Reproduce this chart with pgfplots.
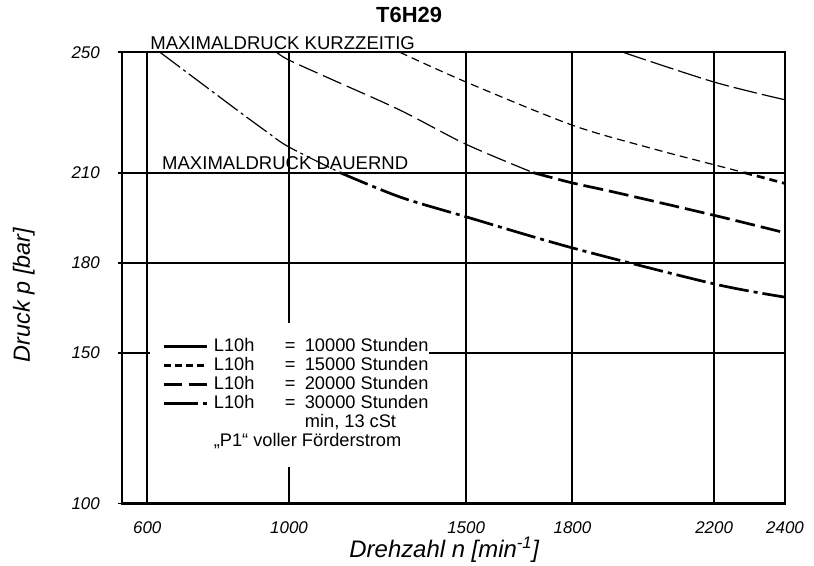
\documentclass[border=0pt]{standalone}
\usepackage{fontspec}
\setmainfont{Liberation Sans}
\usepackage{pgfplots}
\pgfplotsset{compat=1.18}
\begin{document}
\begin{tikzpicture}
\path[use as bounding box] (-122bp,-62.5bp) rectangle (692bp,503.5bp);
\begin{axis}[
  at={(0,0)}, anchor=south west,
  width=663bp, height=451.2bp, scale only axis,
  xmin=528.6, xmax=2400, ymin=100, ymax=250,
  clip=false,
  axis line style={line width=2.4bp},
  xtick={600,1000,1500,1800,2200,2400},
  xticklabels={600,1000,1500,1800,2200,2400},
  ytick={100,150,180,210,250},
  yticklabels={100,150,180,210,250},
  /pgf/number format/assume math mode=true,
  xmajorgrids, ymajorgrids,
  major grid style={line width=1.9bp, black},
  xtick style={draw=none},
  ytick style={line width=1.9bp, black},
  ytick pos=left,
  tick align=outside, major tick length=4bp,
  ticklabel style={font=\fontsize{17}{17}\selectfont\itshape, inner sep=0pt},
  xticklabel style={anchor=north, yshift=-14bp},
  yticklabel style={anchor=east, xshift=-18bp},
  title={T6H29},
  title style={at={(0.433,1)}, anchor=base, yshift=24bp, inner sep=0pt, font=\bfseries\fontsize{22}{22}\selectfont},
  xlabel={Drehzahl n [min\textsuperscript{-1}]},
  xlabel style={at={(axis description cs:0.486,0)}, anchor=base, yshift=-53.5bp, inner sep=0pt, font=\itshape\fontsize{24}{24}\selectfont},
  ylabel={Druck p [bar]},
  ylabel style={at={(axis description cs:-0.148,0.462)}, anchor=center, rotate=0, inner sep=0pt, font=\itshape\fontsize{23.5}{23.5}\selectfont},
  legend image code/.code={\draw[#1] (0bp,5bp) -- (43bp,5bp);},
  legend cell align=left,
  legend style={at={(0.0422,0.400)}, anchor=north west, draw=none, fill=white,
    inner xsep=12bp, inner ysep=15bp, column sep=6bp, row sep=0bp,
    font=\fontsize{18.3}{19}\selectfont,
    nodes={inner sep=0pt, anchor=base west, text height=13bp, text depth=6bp}},
]
% 10000 h
\addplot[forget plot, black, line width=1.2bp, dash pattern=on 24bp off 5bp, smooth]
  coordinates {(1943,250) (2200,240.1) (2400,234.2)};
% 15000 h
\addplot[forget plot, black, line width=1.2bp, dash pattern=on 8bp off 5bp, smooth]
  coordinates {(1313,250) (1500,240.1) (1799,225.8) (2019,218.2) (2200,212.6) (2285,210)};
\addplot[forget plot, black, line width=2.7bp, dash pattern=on 8bp off 5bp, smooth]
  coordinates {(2285,210) (2400,206.4)};
% 20000 h
\addplot[forget plot, black, line width=1.2bp, dash pattern=on 20bp off 6bp, smooth]
  coordinates {(965,250) (1000,247.4) (1124,240.8) (1313,230.8) (1500,219.4) (1689,210)};
\addplot[forget plot, black, line width=2.7bp, dash pattern=on 20bp off 6bp, smooth]
  coordinates {(1689,210) (1799,206.6) (1926,203.3) (2200,195.8) (2400,190)};
% 30000 h
\addplot[forget plot, black, line width=1.2bp, dash pattern=on 25bp off 4bp on 3bp off 4bp, smooth]
  coordinates {(636,250) (842,231.8) (938,223.5) (1000,218.5) (1144,210)};
\addplot[forget plot, black, line width=2.7bp, dash pattern=on 30bp off 5bp on 4bp off 5bp, smooth]
  coordinates {(1144,210) (1313,201.9) (1500,195.3) (1799,185) (2200,173) (2400,168.6)};
% annotations
\node[anchor=base west, inner sep=0pt, yshift=3bp, font=\fontsize{18.6}{18.6}\selectfont] at (axis cs:608,250) {MAXIMALDRUCK KURZZEITIG};
\node[anchor=base west, inner sep=0pt, yshift=3bp, font=\fontsize{18.6}{18.6}\selectfont] at (axis cs:641.5,210) {MAXIMALDRUCK DAUERND};
% legend
\addlegendimage{black, line width=2.7bp}
\addlegendentry{\makebox[71bp][l]{L10h}\makebox[20bp][l]{=}10000 Stunden\hspace{32bp}}
\addlegendimage{black, line width=2.7bp, dash pattern=on 7bp off 4bp}
\addlegendentry{\makebox[71bp][l]{L10h}\makebox[20bp][l]{=}15000 Stunden}
\addlegendimage{black, line width=2.7bp, dash pattern=on 18bp off 7bp}
\addlegendentry{\makebox[71bp][l]{L10h}\makebox[20bp][l]{=}20000 Stunden}
\addlegendimage{black, line width=2.7bp, dash pattern=on 34bp off 5bp on 4bp off 5bp}
\addlegendentry{\makebox[71bp][l]{L10h}\makebox[20bp][l]{=}30000 Stunden}
\addlegendimage{empty legend}
\addlegendentry{\hspace*{91bp}min, 13 cSt}
\addlegendimage{empty legend}
\addlegendentry{„P1“ voller Förderstrom}
\end{axis}
\begin{axis}[
  at={(0,0)}, anchor=south west,
  width=663bp, height=451.2bp, scale only axis,
  xmin=528.6, xmax=2400, ymin=100, ymax=250,
  hide axis, clip=false,
]
\addplot[black, line width=1.9bp] coordinates {(1395,150) (1540,150)};
\end{axis}
\end{tikzpicture}
\end{document}
